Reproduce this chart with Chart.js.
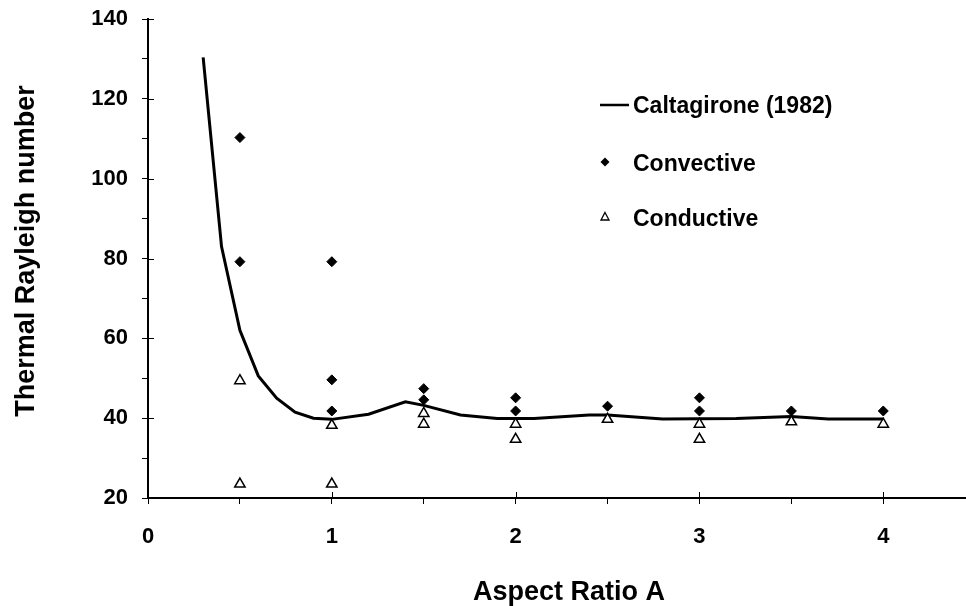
<!DOCTYPE html>
<html>
<head>
<meta charset="utf-8">
<script src="https://cdn.jsdelivr.net/npm/chart.js@4"></script>
<style>
  html, body { margin: 0; padding: 0; background: #fff; overflow: hidden; }
</style>
</head>
<body>
<canvas id="chart" width="966" height="606"></canvas>
<script>
// Caltagirone (1982) curve
const curveX = [0.3, 0.4, 0.5, 0.6, 0.7, 0.8, 0.9, 1.0, 1.2, 1.4, 1.5, 1.7, 1.9, 2.1, 2.4, 2.5, 2.8, 3.2, 3.5, 3.7, 4.0];
const curveY = [130.4, 83, 62, 50.6, 45, 41.5, 40, 39.7, 41, 44.1, 43.2, 40.8, 39.9, 39.9, 40.8, 40.8, 39.8, 39.9, 40.4, 39.8, 39.8];

// experiments
const convX = [0.5, 0.5, 1, 1, 1, 1.5, 1.5, 2, 2, 2.5, 3, 3, 3.5, 4];
const convY = [110.3, 79.2, 79.2, 49.6, 41.8, 47.4, 44.6, 45.1, 41.8, 43, 45.1, 41.8, 41.8, 41.8];
const condX = [0.5, 0.5, 1, 1, 1.5, 1.5, 2, 2, 2.5, 3, 3, 3.5, 4];
const condY = [49.4, 23.5, 38.2, 23.5, 41.2, 38.5, 38.5, 34.7, 39.7, 38.5, 34.7, 39.1, 38.5];

// ticks
const xMajor = [0, 1, 2, 3, 4];
const yMajor = [20, 40, 60, 80, 100, 120, 140];

const seriesNames = ["Caltagirone (1982)", "Convective", "Conductive"];
const FONT = "'Liberation Sans', Arial, sans-serif";

const toPoints = (xs, ys) => xs.map((x, i) => ({ x: x, y: ys[i] }));

// crossing major ticks, axis titles and the legend box
const decor = {
  id: "decor",
  afterDraw(chart) {
    const { ctx, chartArea, scales } = chart;
    const { x, y } = scales;
    ctx.save();
    ctx.strokeStyle = "#000";
    ctx.lineWidth = 1;
    ctx.beginPath();
    xMajor.forEach((v) => {
      const px = Math.round(x.getPixelForValue(v)) + 0.5;
      ctx.moveTo(px, chartArea.bottom);
      ctx.lineTo(px, chartArea.bottom - 6);
    });
    yMajor.forEach((v) => {
      const py = Math.round(y.getPixelForValue(v)) + 0.5;
      ctx.moveTo(chartArea.left, py);
      ctx.lineTo(chartArea.left + 6, py);
    });
    ctx.stroke();

    ctx.fillStyle = "#000";
    ctx.font = "bold 27px " + FONT;
    ctx.textAlign = "center";
    ctx.textBaseline = "alphabetic";
    ctx.fillText("Aspect Ratio A", 569, 600);

    ctx.save();
    ctx.translate(34, 251);
    ctx.rotate(-Math.PI / 2);
    ctx.fillText("Thermal Rayleigh number", 0, 0);
    ctx.restore();

    // legend
    ctx.font = "bold 23px " + FONT;
    ctx.textAlign = "left";
    ctx.fillText(seriesNames[0], 633, 113);
    ctx.fillText(seriesNames[1], 633, 171);
    ctx.fillText(seriesNames[2], 633, 226);

    ctx.lineWidth = 2.5;
    ctx.beginPath();
    ctx.moveTo(600, 105);
    ctx.lineTo(629, 105);
    ctx.stroke();

    ctx.beginPath();
    ctx.moveTo(605, 157.5);
    ctx.lineTo(609.5, 162);
    ctx.lineTo(605, 166.5);
    ctx.lineTo(600.5, 162);
    ctx.closePath();
    ctx.fill();

    ctx.lineWidth = 1.3;
    ctx.fillStyle = "#fff";
    ctx.beginPath();
    ctx.moveTo(605, 212.5);
    ctx.lineTo(609, 220);
    ctx.lineTo(601, 220);
    ctx.closePath();
    ctx.fill();
    ctx.stroke();
    ctx.restore();
  }
};

new Chart(document.getElementById("chart").getContext("2d"), {
  type: "scatter",
  data: {
    datasets: [
      {
        label: seriesNames[0],
        data: toPoints(curveX, curveY),
        showLine: true,
        borderColor: "#000",
        borderWidth: 3,
        pointRadius: 0,
        tension: 0,
        order: 3
      },
      {
        label: seriesNames[1],
        data: toPoints(convX, convY),
        pointStyle: "rectRot",
        pointRadius: 5,
        backgroundColor: "#000",
        borderColor: "#000",
        borderWidth: 1,
        order: 2
      },
      {
        label: seriesNames[2],
        data: toPoints(condX, condY),
        pointStyle: "triangle",
        pointRadius: 6,
        backgroundColor: "#fff",
        borderColor: "#000",
        borderWidth: 1.5,
        order: 1
      }
    ]
  },
  options: {
    responsive: false,
    animation: false,
    layout: { autoPadding: false, padding: { left: 91, top: 19, right: 0, bottom: 0 } },
    plugins: {
      legend: { display: false },
      tooltip: { enabled: false }
    },
    scales: {
      x: {
        type: "linear",
        min: 0,
        max: 4.45,
        afterFit: (scale) => {
          scale.height = 108;
          scale.paddingLeft = 0;
          scale.paddingRight = 0;
        },
        grid: { drawOnChartArea: false, drawTicks: true, tickLength: 6, color: "#000", lineWidth: 1 },
        border: { display: true, color: "#000", width: 2 },
        ticks: {
          stepSize: 0.5,
          includeBounds: false,
          maxRotation: 0,
          autoSkip: false,
          padding: 20,
          color: "#000",
          font: { family: FONT, size: 22, weight: "bold" },
          callback: (v) => (Number.isInteger(v) ? String(v) : "")
        }
      },
      y: {
        type: "linear",
        min: 20,
        max: 140,
        afterFit: (scale) => {
          scale.width = 57;
          scale.paddingTop = 0;
          scale.paddingBottom = 0;
        },
        grid: { drawOnChartArea: false, drawTicks: true, tickLength: 6, color: "#000", lineWidth: 1 },
        border: { display: true, color: "#000", width: 2 },
        ticks: {
          stepSize: 10,
          autoSkip: false,
          padding: 14,
          color: "#000",
          font: { family: FONT, size: 22, weight: "bold" },
          callback: (v) => (v % 20 === 0 ? String(v) : "")
        }
      }
    }
  },
  plugins: [decor]
});
</script>
</body>
</html>
